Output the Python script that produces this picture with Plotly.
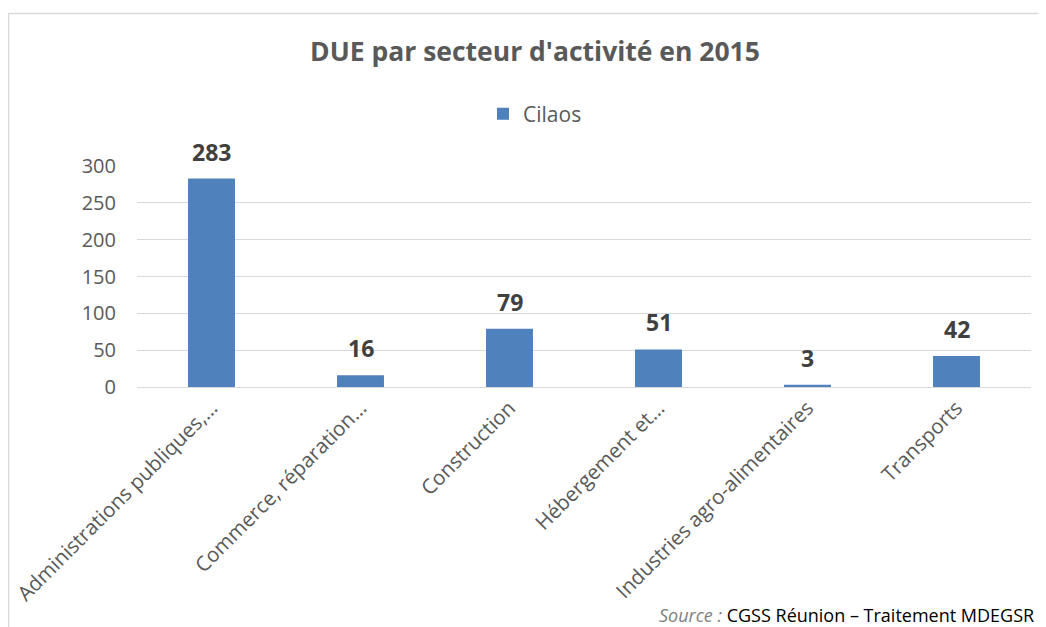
import plotly.graph_objects as go

categories = ["Administrations publiques,…", "Commerce, réparation…", "Construction",
              "Hébergement et…", "Industries agro-alimentaires", "Transports"]
values = [283, 16, 79, 51, 3, 42]
series_name = "Cilaos"
y_ticks = [0, 50, 100, 150, 200, 250, 300]

# page is offset by the default 8px body margin
OFF = 8
W, H = 1038, 619
# reference-pixel plot area: x 137..1031, y 166..387
L = 137 - OFF
T = 166 - OFF
R = W - (1031 - OFF)
B = H - (387 - OFF)
pw = W - L - R
ph = H - T - B

def px_x(x):
    return (x - OFF - L) / pw

def px_y(y):
    return (H - B - (y - OFF)) / ph

FONT = "Open Sans"
GRAY = "#595959"

fig = go.Figure()
fig.add_trace(go.Bar(
    x=categories, y=values, name=series_name,
    marker=dict(color="#4f81bd", line=dict(width=0)),
    width=0.315,
    showlegend=True,
))

# data labels above bars
for c, v in zip(categories, values):
    fig.add_annotation(x=c, y=v, xref="x", yref="y", text=f"<b>{v}</b>",
                       showarrow=False, yanchor="bottom", yshift=9,
                       font=dict(family=FONT, size=23, color="#404040"))

fig.update_layout(
    width=W, height=H,
    margin=dict(l=L, r=R, t=T, b=B, autoexpand=False),
    paper_bgcolor="white", plot_bgcolor="white",
    title=dict(text="<b>DUE par secteur d'activité en 2015</b>",
               x=(535 - OFF) / W, xref="container", xanchor="center",
               y=1 - (52 - OFF) / H, yref="container", yanchor="middle",
               font=dict(family=FONT, size=26.5, color=GRAY)),
    legend=dict(orientation="h", x=px_x(535), xanchor="center", xref="paper",
                y=px_y(114), yanchor="middle", yref="paper",
                font=dict(family=FONT, size=21, color=GRAY),
                itemwidth=30),
    bargap=0.685,
    xaxis=dict(tickangle=-45, tickfont=dict(family=FONT, size=20.5, color=GRAY),
               showline=True, linecolor="#d9d9d9", linewidth=1,
               ticks="", showgrid=False),
    yaxis=dict(range=[0, 300], tickvals=y_ticks,
               tickfont=dict(family=FONT, size=20, color=GRAY),
               showgrid=True, gridcolor="#d9d9d9", gridwidth=1,
               zeroline=False, showline=False, ticks="", ticklabelstandoff=20),
    showlegend=True,
)

# outer chart frame
fig.add_shape(type="rect", xref="paper", yref="paper",
              x0=px_x(8.5), x1=px_x(1100), y0=px_y(700), y1=px_y(13.5),
              line=dict(color="#d9d9d9", width=1.5), fillcolor="rgba(0,0,0,0)", layer="below")

fig.add_annotation(
    xref="paper", yref="paper", x=px_x(657), y=px_y(615),
    xanchor="left", yanchor="middle", showarrow=False,
    text="<i><span style='color:#7f7f7f'>Source :</span></i> CGSS Réunion – Traitement MDEGSR",
    font=dict(family=FONT, size=18, color="#000000"),
)

fig.write_html("out.html")
